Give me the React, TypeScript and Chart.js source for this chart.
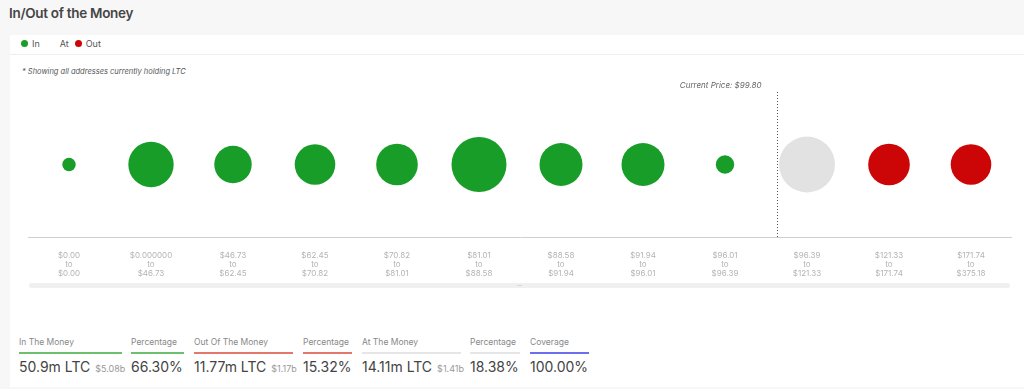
import React, { useEffect, useRef } from "react";
import { Chart, registerables } from "chart.js";

Chart.register(...registerables);

// ---- data ----
const rangeFrom = ["$0.00", "$0.000000", "$46.73", "$62.45", "$70.82", "$81.01", "$88.58", "$91.94", "$96.01", "$96.39", "$121.33", "$171.74"];
const rangeTo = ["$0.00", "$46.73", "$62.45", "$70.82", "$81.01", "$88.58", "$91.94", "$96.01", "$96.39", "$121.33", "$171.74", "$375.18"];
const bucketLow = [0, 0, 46.73, 62.45, 70.82, 81.01, 88.58, 91.94, 96.01, 96.39, 121.33, 171.74];
const bucketHigh = [0, 46.73, 62.45, 70.82, 81.01, 88.58, 91.94, 96.01, 96.39, 121.33, 171.74, 375.18];
// estimated volume held per bucket (millions LTC)
const volumes = [0.65, 7.44, 5.06, 5.95, 6.26, 10.92, 6.68, 6.68, 1.23, 11.33, 6.26, 5.95];
const zones = ["in", "in", "in", "in", "in", "in", "in", "in", "in", "at", "out", "out"];
const CURRENT_PRICE = 99.8;

const summaryLabels = ["In The Money", "Percentage", "Out Of The Money", "Percentage", "At The Money", "Percentage", "Coverage"];
const summaryValues = ["50.9m LTC", "66.30%", "11.77m LTC", "15.32%", "14.11m LTC", "18.38%", "100.00%"];
const summarySub = ["$5.08b", "", "$1.17b", "", "$1.41b", "", ""];

// ---- styles ----
const zoneColor: Record<string, string> = { in: "#189e28", at: "#e2e2e2", out: "#cc0606" };
const summaryLine = ["#6cbf6c", "#6cbf6c", "#e4776d", "#e4776d", "#e6e6e6", "#e6e6e6", "#6d6df2"];
const summaryWidth = [103, 53, 99, 49, 99, 50, 59];
const summaryLeft = [19, 131, 194, 303, 362, 470, 530];
const FONT = "Inter, 'Noto Sans', sans-serif";
const RADIUS_K = 8.32;

const currentPricePlugin = {
  id: "currentPrice",
  afterDatasetsDraw(chart: any) {
    const { ctx, chartArea, scales } = chart;
    const x = scales.x;
    let idx = bucketLow.findIndex((lo, i) => CURRENT_PRICE >= lo && CURRENT_PRICE < bucketHigh[i]);
    if (idx < 0) idx = bucketLow.length - 1;
    const band = x.getPixelForValue(1) - x.getPixelForValue(0);
    const frac = (CURRENT_PRICE - bucketLow[idx]) / (bucketHigh[idx] - bucketLow[idx]);
    const px = Math.round(x.getPixelForValue(idx) - band / 2 + frac * band) + 0.5;
    ctx.save();
    ctx.strokeStyle = "#555";
    ctx.lineWidth = 1;
    ctx.setLineDash([1, 2]);
    ctx.beginPath();
    ctx.moveTo(px, chartArea.top);
    ctx.lineTo(px, chartArea.bottom);
    ctx.stroke();
    ctx.setLineDash([]);
    ctx.fillStyle = "#666";
    ctx.font = `italic 8px ${FONT}`;
    ctx.textAlign = "right";
    ctx.textBaseline = "middle";
    ctx.fillText(`Current Price: $${CURRENT_PRICE.toFixed(2)}`, px - 16, chartArea.top - 6);
    ctx.restore();
  },
};

function BubbleChart() {
  const ref = useRef<HTMLCanvasElement | null>(null);
  useEffect(() => {
    if (!ref.current) return;
    const labels = rangeFrom.map((f, i) => [f, "to", rangeTo[i]]);
    const chart = new Chart(ref.current, {
      type: "bubble",
      data: {
        labels,
        datasets: [
          {
            data: volumes.map((v, i) => ({ x: i, y: 1, r: RADIUS_K * Math.sqrt(v) })),
            backgroundColor: zones.map((z) => zoneColor[z]),
            borderWidth: 0,
            hoverBorderWidth: 0,
            clip: false,
          } as any,
        ],
      },
      options: {
        animation: false,
        responsive: false,
        maintainAspectRatio: false,
        layout: { autoPadding: false, padding: { top: 14, left: 0, right: 0, bottom: 0 } },
        plugins: { legend: { display: false }, tooltip: { enabled: false } },
        scales: {
          x: {
            type: "category",
            offset: true,
            min: 0,
            max: labels.length - 1,
            grid: { display: false, drawTicks: false },
            border: { display: true, color: "#cfcfcf", width: 1 },
            ticks: {
              color: "#b3b3b3",
              font: { family: FONT, size: 8, lineHeight: 1.12 },
              padding: 14,
              autoSkip: false,
              maxRotation: 0,
            },
            afterFit: (s: any) => {
              s.paddingLeft = 0;
              s.paddingRight = 0;
              s.height = 61;
            },
          },
          y: { display: false, min: 0, max: 2 },
        },
      } as any,
      plugins: [currentPricePlugin],
    });
    return () => chart.destroy();
  }, []);
  return (
    <canvas
      ref={ref}
      width={984}
      height={220}
      style={{ position: "absolute", left: 28, top: 78, width: 984, height: 220 }}
    />
  );
}

export default function App() {
  return (
    <div
      style={{
        position: "fixed",
        left: 0,
        top: 0,
        width: 1024,
        height: 389,
        background: "#f7f7f7",
        fontFamily: FONT,
        overflow: "hidden",
      }}
    >
      <div style={{ position: "absolute", left: 9, top: 4, fontSize: 13.5, letterSpacing: -0.3, fontWeight: 600, color: "#454545", lineHeight: "18px" }}>
        In/Out of the Money
      </div>
      <div style={{ position: "absolute", left: 10, top: 35, width: 1014, height: 352, background: "#fff" }}>
        {/* legend */}
        <div style={{ position: "absolute", left: 0, top: 19, width: 1014, height: 1, background: "#eeeeee" }} />
        <div style={{ position: "absolute", left: 11, top: 2, height: 12, display: "flex", alignItems: "center", fontSize: 9, color: "#555" }}>
          <span style={{ width: 7, height: 7, borderRadius: 4, background: zoneColor.in, display: "inline-block", marginRight: 4 }} />
          <span style={{ marginRight: 20 }}>In</span>
          <span style={{ marginRight: 6 }}>At</span>
          <span style={{ width: 7, height: 7, borderRadius: 4, background: zoneColor.out, display: "inline-block", marginRight: 4 }} />
          <span>Out</span>
        </div>
        <div style={{ position: "absolute", left: 12, top: 32, fontSize: 7.5, fontStyle: "italic", color: "#555", lineHeight: "10px" }}>
          * Showing all addresses currently holding LTC
        </div>
      </div>
      <BubbleChart />
      {/* scrollbar */}
      <div style={{ position: "absolute", left: 29, top: 283, width: 981, height: 5, borderRadius: 3, background: "#f0f0f0" }} />
      <div style={{ position: "absolute", left: 517, top: 285, width: 5, height: 1, background: "#d8d8d8" }} />
      {summaryLabels.map((l, i) => (
        <div key={i} style={{ position: "absolute", left: summaryLeft[i], top: 336, width: summaryWidth[i] }}>
          <div style={{ fontSize: 8.5, color: "#888", lineHeight: "12px", whiteSpace: "nowrap" }}>{l}</div>
          <div style={{ marginTop: 4, height: 2, background: summaryLine[i] }} />
          <div style={{ marginTop: 3, whiteSpace: "nowrap", lineHeight: "18px", color: "#444" }}>
            <span style={{ fontSize: 14 }}>{summaryValues[i]}</span>
            {summarySub[i] ? <span style={{ fontSize: 9, color: "#999", marginLeft: 5 }}>{summarySub[i]}</span> : null}
          </div>
        </div>
      ))}
    </div>
  );
}
